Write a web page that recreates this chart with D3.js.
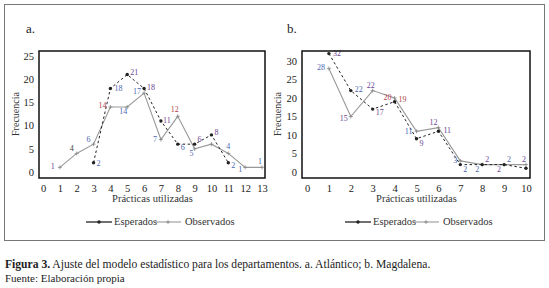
<!DOCTYPE html>
<html lang="es">
<head>
<meta charset="UTF-8">
<title>Figura 3</title>
<script src="https://d3js.org/d3.v7.min.js"></script>
<style>
  body { margin: 0; background: #fff; }
  svg, svg text { font-family: "Liberation Serif", "DejaVu Serif", serif; }
</style>
</head>
<body>
<svg id="fig" width="549" height="288"></svg>
<script>
// ---- data ----
const xObsA = [1, 2, 3, 4, 5, 6, 7, 8, 9, 10, 11, 12, 13];
const obsA  = [1, 4, 6, 14, 14, 17, 7, 12, 5, 6, 4, 1, 1];
const xEspA = [3, 4, 5, 6, 7, 8, 9, 10, 11];
const espA  = [2, 18, 21, 18, 11, 6, 6, 8, 2];

const xB    = [1, 2, 3, 4, 5, 6, 7, 8, 9, 10];
const obsB  = [28, 15, 22, 20, 11, 12, 3, 2, 2, 2];
const espB  = [32, 22, 17, 19, 9, 11, 2, 2, 2, 1];

const xTicksA = d3.range(0, 14);
const yTicksA = [0, 5, 10, 15, 20, 25];
const xTicksB = d3.range(0, 11);
const yTicksB = [0, 5, 10, 15, 20, 25, 30];

// label placement per point: [dx, dy, anchor, colour], null = no label
const B = "#4a67b0", P = "#6b4593", R = "#b0444a", K = "#444";
const obsLblA = [[-5,2,"end",P],[-3,-2,"end",K],[-3,-2,"end",B],[-4,1,"end",R],[-4,7,"middle",B],
  [-3,1,"end",B],[-4,2,"end",B],[-3,-4,"middle",R],[-3,7,"middle",B],null,[0,-4,"middle",B],
  [-3,5,"end",B],[-2,-3,"middle",B]];
const espLblA = [[3,3,"start",B],[4,3,"start",B],[3,0,"start",P],[3,2,"start",P],[2,2,"start",P],
  [3,6,"start",B],[3,-2,"start",P],[3,0,"start",P],[3,5,"start",B]];
const obsLblB = [[-4,2,"end",B],[-3,4,"end",P],[-2,-3,"middle",P],[-3,2,"end",R],[-4,3,"end",B],
  [-5,-3,"middle",P],[-3,2,"end",B],[-3,7,"end",B],[-3,7,"end",P],[-2,-3,"middle",P]];
const espLblB = [[4,2,"start",P],[4,1,"start",B],[3,6,"start",P],[4,0,"start",R],[3,7,"start",P],
  [5,2,"start",P],[3,7,"start",B],[3,-3,"start",P],[3,-3,"start",B],null];

const FONT = "Liberation Serif, DejaVu Serif, serif";
const svg = d3.select("#fig");

// outer frame
svg.append("rect").attr("x", 4.5).attr("y", 4.5).attr("width", 540).attr("height", 236)
  .attr("fill", "none").attr("stroke", "#777").attr("stroke-width", 1);

function panel(o) {
  const x = d3.scaleLinear().domain(o.xDom).range(o.xRange);
  const y = d3.scaleLinear().domain(o.yDom).range([172, o.yTop]);
  const g = svg.append("g");

  g.append("text").attr("x", o.titleX).attr("y", 33).attr("font-size", 13).attr("fill", "#222").text(o.title);

  g.append("g").attr("transform", "translate(0,178)")
    .call(d3.axisBottom(x).tickValues(o.xTicks).tickSize(0).tickPadding(7))
    .attr("font-family", FONT).attr("font-size", 10.5)
    .call(s => s.select(".domain").remove())
    .call(s => s.selectAll("text").attr("fill", "#222"));
  g.append("g").attr("transform", `translate(${o.frame[0]},0)`)
    .call(d3.axisLeft(y).tickValues(o.yTicks).tickSize(0).tickPadding(5))
    .attr("font-family", FONT).attr("font-size", 10.5)
    .call(s => s.select(".domain").remove())
    .call(s => s.selectAll("text").attr("fill", "#222"));

  g.append("text").attr("x", (o.xRange[0] + o.xRange[1]) / 2).attr("y", 202)
    .attr("text-anchor", "middle").attr("font-size", 10.5).attr("fill", "#333").text("Prácticas utilizadas");
  g.append("text").attr("transform", `translate(${o.yLabX},114) rotate(-90)`)
    .attr("text-anchor", "middle").attr("font-size", 10).attr("fill", "#333").text("Frecuencia");

  const line = d3.line().x(d => x(d[0])).y(d => y(d[1]));
  const obs = o.xObs.map((v, i) => [v, o.obs[i]]);
  const esp = o.xEsp.map((v, i) => [v, o.esp[i]]);

  g.append("path").datum(obs).attr("d", line).attr("fill", "none")
    .attr("stroke", "#999").attr("stroke-width", 1.1);
  g.selectAll(".om").data(obs).join("path").attr("class", "om")
    .attr("d", d => `M${x(d[0]) - 2},${y(d[1])}h4M${x(d[0])},${y(d[1]) - 2}v4`)
    .attr("stroke", "#888").attr("stroke-width", 0.8);

  g.append("path").datum(esp).attr("d", line).attr("fill", "none")
    .attr("stroke", "#222").attr("stroke-width", 1).attr("stroke-dasharray", "2.5,2.5");
  g.selectAll(".em").data(esp).join("circle").attr("class", "em")
    .attr("cx", d => x(d[0])).attr("cy", d => y(d[1])).attr("r", 1.7).attr("fill", "#222");

  const lbl = (pts, pos) => g.selectAll(null).data(pts.map((d, i) => [d, pos[i]]).filter(d => d[1]))
    .join("text").attr("font-size", 8)
    .attr("x", d => x(d[0][0]) + d[1][0]).attr("y", d => y(d[0][1]) + d[1][1])
    .attr("text-anchor", d => d[1][2]).attr("fill", d => d[1][3]).text(d => d[0][1]);
  lbl(obs, o.obsLbl);
  lbl(esp, o.espLbl);

  // plot frame
  g.append("rect").attr("x", o.frame[0]).attr("y", 51).attr("width", o.frame[1] - o.frame[0]).attr("height", 127)
    .attr("fill", "none").attr("stroke", "#111").attr("stroke-width", 1.5);

  // legend
  const L = o.legend;
  g.append("line").attr("x1", L[0]).attr("x2", L[0] + 26).attr("y1", 222).attr("y2", 222)
    .attr("stroke", "#111").attr("stroke-width", 1.2);
  g.append("circle").attr("cx", L[0] + 13).attr("cy", 222).attr("r", 1.7).attr("fill", "#222");
  g.append("text").attr("x", L[0] + 28).attr("y", 225).attr("font-size", 10.5).attr("fill", "#333").text("Esperados");
  g.append("line").attr("x1", L[1]).attr("x2", L[1] + 26).attr("y1", 222).attr("y2", 222)
    .attr("stroke", "#999").attr("stroke-width", 1.1);
  g.append("path").attr("d", `M${L[1] + 11},222h4M${L[1] + 13},220v4`).attr("stroke", "#888").attr("stroke-width", 0.8);
  g.append("text").attr("x", L[1] + 30).attr("y", 225).attr("font-size", 10.5).attr("fill", "#333").text("Observados");
}

panel({ title: "a.", titleX: 26, xDom: [0, 13], xRange: [43, 262], yDom: [0, 25], yTop: 56,
  frame: [39, 265], xTicks: xTicksA, yTicks: yTicksA, yLabX: 19,
  xObs: xObsA, obs: obsA, xEsp: xEspA, esp: espA, obsLbl: obsLblA, espLbl: espLblA, legend: [86, 155] });

panel({ title: "b.", titleX: 287, xDom: [0, 10], xRange: [307, 526], yDom: [0, 30], yTop: 61,
  frame: [302, 530], xTicks: xTicksB, yTicks: yTicksB, yLabX: 281,
  xObs: xB, obs: obsB, xEsp: xB, esp: espB, obsLbl: obsLblB, espLbl: espLblB, legend: [345, 413] });

// caption
const cap = svg.append("text").attr("x", 5).attr("y", 268).attr("font-size", 11.6).attr("fill", "#222");
cap.append("tspan").attr("font-weight", "bold").text("Figura 3.");
cap.append("tspan").text(" Ajuste del modelo estadístico para los departamentos. a. Atlántico; b. Magdalena.");
svg.append("text").attr("x", 5).attr("y", 282).attr("font-size", 11).attr("fill", "#222").text("Fuente: Elaboración propia");
</script>
</body>
</html>
